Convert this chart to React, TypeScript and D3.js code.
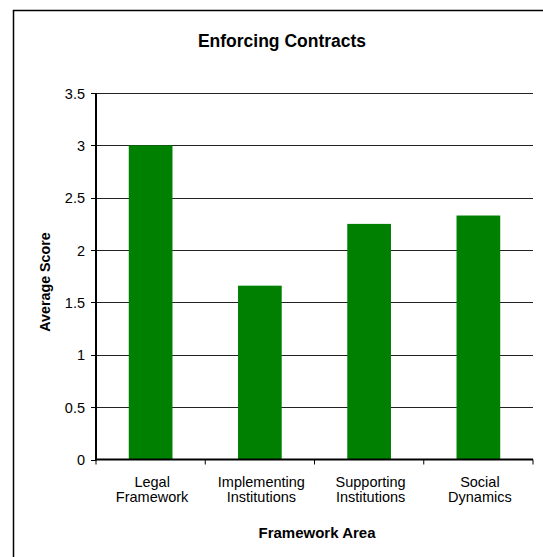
import React from "react";
import * as d3 from "d3";

const categories: string[][] = [
  ["Legal", "Framework"],
  ["Implementing", "Institutions"],
  ["Supporting", "Institutions"],
  ["Social", "Dynamics"],
];
const values: number[] = [3, 1.66, 2.25, 2.33];
const yTicks: number[] = [0, 0.5, 1, 1.5, 2, 2.5, 3, 3.5];
const title = "Enforcing Contracts";
const xTitle = "Framework Area";
const yTitle = "Average Score";

export default function App() {
  const W = 543, H = 557;
  const left = 96, right = 533, top = 93, bottom = 459.5;
  const keys = categories.map((c) => c.join(" "));
  const x = d3.scaleBand<string>().domain(keys).range([left, right]).paddingInner(0.6).paddingOuter(0.3);
  const xb = d3.scaleBand<string>().domain(keys).range([left, right]);
  const y = d3.scaleLinear().domain([0, 3.5]).range([bottom, top]);
  const font = "'Liberation Sans', Arial, sans-serif";
  return (
    <svg width={W} height={H} style={{ position: "absolute", left: 0, top: 0 }}>
      <rect x={0} y={0} width={W} height={H} fill="#fff" />
      <rect x={13.5} y={10.5} width={560} height={600} fill="#fff" stroke="#000" strokeWidth={1.5} />
      <text x={282} y={47} textAnchor="middle" fontFamily={font} fontWeight="bold" fontSize={17.5}>{title}</text>
      {yTicks.slice(1).map((t) => (
        <line key={t} x1={left} x2={right} y1={Math.round(y(t)) + 0.5} y2={Math.round(y(t)) + 0.5} stroke="#222" strokeWidth={1.2} />
      ))}
      {values.map((v, i) => (
        <rect key={i} x={x(keys[i])!} y={y(v)} width={x.bandwidth()} height={bottom - y(v)} fill="#008000" />
      ))}
      <line x1={left} x2={left} y1={top} y2={bottom + 1} stroke="#000" strokeWidth={2} />
      <line x1={left - 1} x2={right} y1={bottom} y2={bottom} stroke="#000" strokeWidth={2} />
      {yTicks.map((t) => (
        <g key={t}>
          <line x1={left - 5} x2={left} y1={Math.round(y(t)) + 0.5} y2={Math.round(y(t)) + 0.5} stroke="#000" />
          <text x={85} y={y(t) + 5.5} textAnchor="end" fontFamily={font} fontSize={14.5}>{t}</text>
        </g>
      ))}
      {keys.map((k) => (
        <line key={k} x1={xb(k)!} x2={xb(k)!} y1={bottom} y2={bottom + 5} stroke="#000" />
      ))}
      <line x1={right} x2={right} y1={bottom} y2={bottom + 5} stroke="#000" />
      {categories.map((c, i) => (
        <text key={i} textAnchor="middle" fontFamily={font} fontSize={14.5}>
          {c.map((l, j) => (
            <tspan key={j} x={xb(keys[i])! + xb.bandwidth() / 2 + 1.5} y={486.5 + j * 15}>{l}</tspan>
          ))}
        </text>
      ))}
      <text x={317} y={538} textAnchor="middle" fontFamily={font} fontWeight="bold" fontSize={15}>{xTitle}</text>
      <text transform={`translate(50,282) rotate(-90)`} textAnchor="middle" fontFamily={font} fontWeight="bold" fontSize={14.3}>{yTitle}</text>
    </svg>
  );
}
